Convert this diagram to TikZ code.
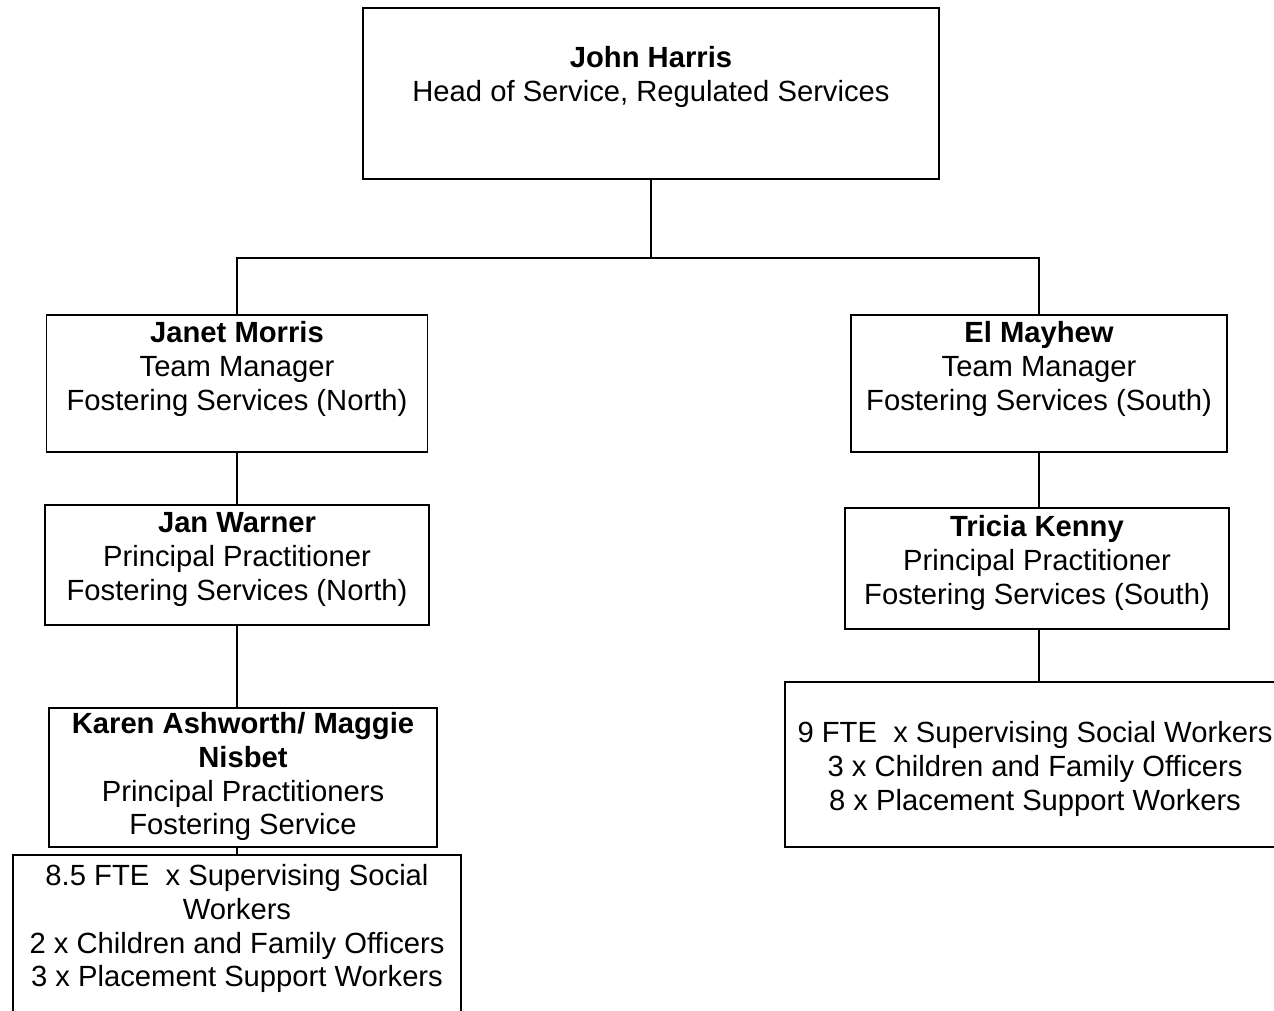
\documentclass[tikz,border=0pt]{standalone}
\usepackage{fontspec}
\setmainfont{Liberation Sans}
\usetikzlibrary{calc}

\begin{document}
\begin{tikzpicture}[x=0.5pt, y=-0.5pt,
    box/.style={draw, line width=0.9pt, inner sep=0pt},
    txt/.style={anchor=north, align=center, inner sep=0pt, font=\fontsize{14.6}{16.9}\selectfont},
    link/.style={line width=0.8pt}
]
\useasboundingbox (0,0) rectangle (1274,1011);
\clip (0,0) rectangle (1274,1011);

\node[box, minimum width=288pt, minimum height=85.5pt] (harris) at (651,93.5) {};
\node[box, minimum width=190.5pt, minimum height=68.5pt] (janet) at (237,383.5) {};
\node[box, minimum width=188pt, minimum height=68.5pt] (mayhew) at (1039,383.5) {};
\node[box, minimum width=192pt, minimum height=60pt] (warner) at (237,565) {};
\node[box, minimum width=192pt, minimum height=60.5pt] (kenny) at (1037,568.5) {};
\node[box, minimum width=194pt, minimum height=69.5pt] (karen) at (243,777.5) {};
\node[box, minimum width=224pt, minimum height=92.5pt] (staffN) at (237,947.5) {};
\node[box, minimum width=250pt, minimum height=82.5pt] (staffS) at (1035,764.5) {};

\node[txt] (harrisT) at (651,46) {\textbf{John Harris}\\Head of Service, Regulated Services};
\node[txt] (janetT) at (237,321) {\textbf{Janet Morris}\\Team Manager\\Fostering Services (North)};
\node[txt] (mayhewT) at (1039,321) {\textbf{El Mayhew}\\Team Manager\\Fostering Services (South)};
\node[txt] (warnerT) at (237,512) {\textbf{Jan Warner}\\Principal Practitioner\\Fostering Services (North)};
\node[txt] (kennyT) at (1037,515) {\textbf{Tricia Kenny}\\Principal Practitioner\\Fostering Services (South)};
\node[txt] (karenT) at (243,712) {\textbf{Karen Ashworth/ Maggie}\\\textbf{Nisbet}\\Principal Practitioners\\Fostering Service};
\node[txt] (staffNT) at (237,864) {8.5 FTE~ x Supervising Social\\Workers\\2 x Children and Family Officers\\3 x Placement Support Workers};
\node[txt] (staffST) at (1035,721) {9 FTE~ x Supervising Social Workers\\3 x Children and Family Officers\\8 x Placement Support Workers};

\coordinate (split) at (651,258);
\draw[link] (harris.south) -- (split);
\draw[link] (janet.north) |- (split) -| (mayhew.north);
\draw[link] (janet.south) -- (warner.north);
\draw[link] (warner.south) -- (warner.south |- karen.north);
\draw[link] (staffN.north |- karen.south) -- (staffN.north);
\draw[link] (mayhew.south) -- (mayhew.south |- kenny.north);
\draw[link] (mayhew.south |- kenny.south) -- (mayhew.south |- staffS.north);
\end{tikzpicture}
\end{document}
